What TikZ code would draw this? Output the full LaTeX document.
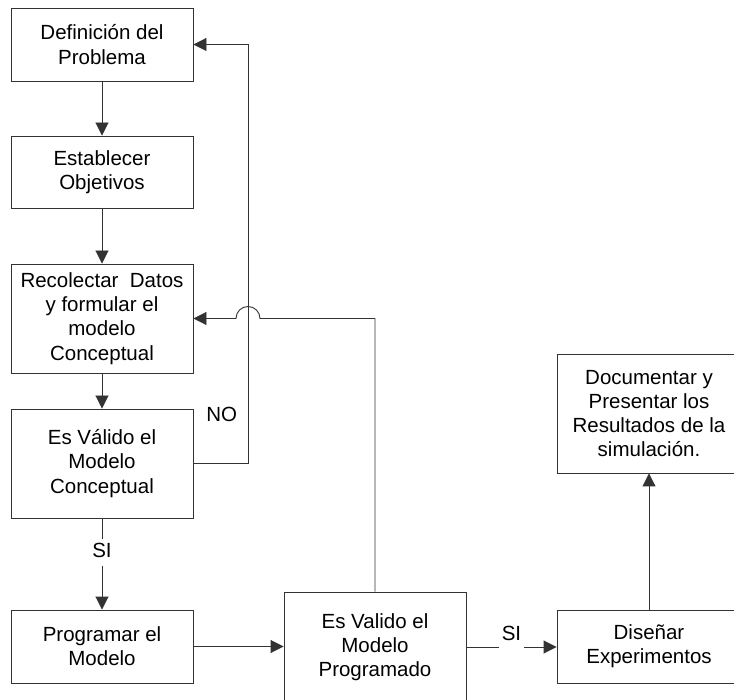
\documentclass[tikz,border=0pt]{standalone}
\usepackage{fontspec}
\setmainfont{Liberation Sans}
\usetikzlibrary{arrows.meta}
\begin{document}
\begin{tikzpicture}[x=1pt,y=1pt,
  box/.style={draw=black!80, line width=0.9pt, rectangle, inner sep=0pt, align=center,
    font=\fontsize{20.5}{24.3}\selectfont, text=black},
  lbl/.style={font=\fontsize{20.5}{24.3}\selectfont, text=black, inner sep=0pt},
  conn/.style={draw=black!80, line width=0.9pt},
  arr/.style={conn, -{Triangle[length=13pt,width=13pt]}}]
\path[use as bounding box, fill=white] (0,0) rectangle (734,-700);
\clip (0,0) rectangle (734,-700);
% boxes
\node[box, minimum width=182, minimum height=73] (b1) at (102,-44.5) {Definición del\\Problema};
\node[box, minimum width=182, minimum height=72] (b2) at (102,-172) {Establecer\\Objetivos};
\node[box, minimum width=182, minimum height=109] (b3) at (102,-318.5) {Recolectar\ \ Datos\\y formular el\\modelo\\Conceptual};
\node[box, minimum width=182, minimum height=109] (b4) at (102,-463.5) {Es Válido el\\Modelo\\Conceptual};
\node[box, minimum width=182, minimum height=73] (b5) at (102,-646.5) {Programar el\\Modelo};
\node[box, minimum width=182, minimum height=110] (b6) at (375,-647) {Es Valido el\\Modelo\\Programado};
\node[box, minimum width=184, minimum height=73] (b7) at (649,-646.5) {Diseñar\\Experimentos};
\node[box, minimum width=184, minimum height=119] (b8) at (649,-413.5) {Documentar y\\Presentar los\\Resultados de la\\simulación.};
% labels
\node[lbl, anchor=base, inner xsep=2pt, inner ysep=4pt, text depth=4pt] (siA) at (102,-557.3) {SI};
\node[lbl, anchor=base, inner xsep=2.5pt] (siB) at (511.5,-640) {SI};
\node[lbl, anchor=base] (no) at (221.7,-421.7) {NO};
\coordinate (nox) at (248,0);
% connectors
\draw[arr] (b1.south) -- (b2.north);
\draw[arr] (b2.south) -- (b3.north);
\draw[arr] (b3.south) -- (b4.north);
\draw[conn] (b4.south) -- (siA.north);
\draw[arr] (siA.south) -- (b5.north);
\draw[arr] (b4.east) -- (b4.east -| nox) -- (b1.east -| nox) -- (b1.east);
\draw[arr] (b5.east) -- (b5.east -| b6.west);
\draw[arr] (b6.north) -- (b6.north |- b3.east) -- ([xshift=12pt]b3.east -| nox) arc (0:180:12pt) -- (b3.east);
\draw[conn] (b6.east) -- (b6.east -| siB.west);
\draw[arr] (b6.east -| siB.east) -- (b6.east -| b7.west);
\draw[arr] (b7.north) -- (b8.south);
\end{tikzpicture}
\end{document}
